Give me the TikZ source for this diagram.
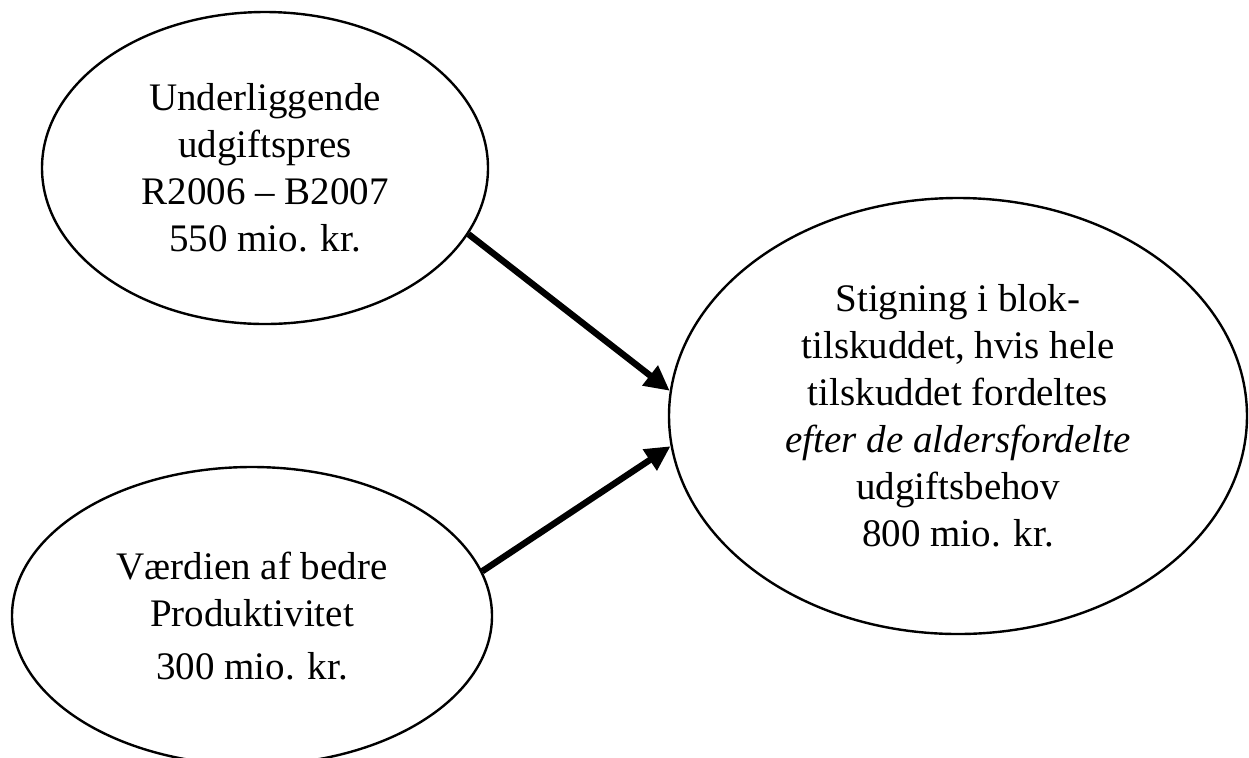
\documentclass[tikz,border=0pt]{standalone}
\usepackage{fontspec}
\setmainfont{Liberation Serif}
\usetikzlibrary{arrows.meta, shapes.geometric}

\begin{document}
\begin{tikzpicture}[
  x=0.5pt, y=-0.5pt,
  bubble/.style={ellipse, draw, line width=1.2pt, inner sep=0pt, align=center, font=\fontsize{19.5}{23.5}\selectfont},
  arrow/.style={-{Triangle[length=12.5pt, width=12pt]}, line width=3.2pt}
]
  \useasboundingbox (0,0) rectangle (1249,757);

  % Ellipses
  \node[bubble, minimum width=223pt, minimum height=156pt] (press) at (265,168)
    {Underliggende\\udgiftspres\\R2006 -- B2007\\550 mio. kr.};
  \node[bubble, minimum width=240pt, minimum height=149pt] (prod) at (252,616)
    {Værdien af bedre\\Produktivitet\\[3pt]300 mio. kr.};
  \node[bubble, minimum width=289pt, minimum height=218pt] (stig) at (958,416)
    {Stigning i blok-\\tilskuddet, hvis hele\\tilskuddet fordeltes\\\textit{efter de aldersfordelte}\\udgiftsbehov\\800 mio. kr.};

  % Arrows
  \draw[arrow] (press.-18.5) -- (stig.175);
  \draw[arrow] (prod.11) -- (stig.186);
\end{tikzpicture}
\end{document}
